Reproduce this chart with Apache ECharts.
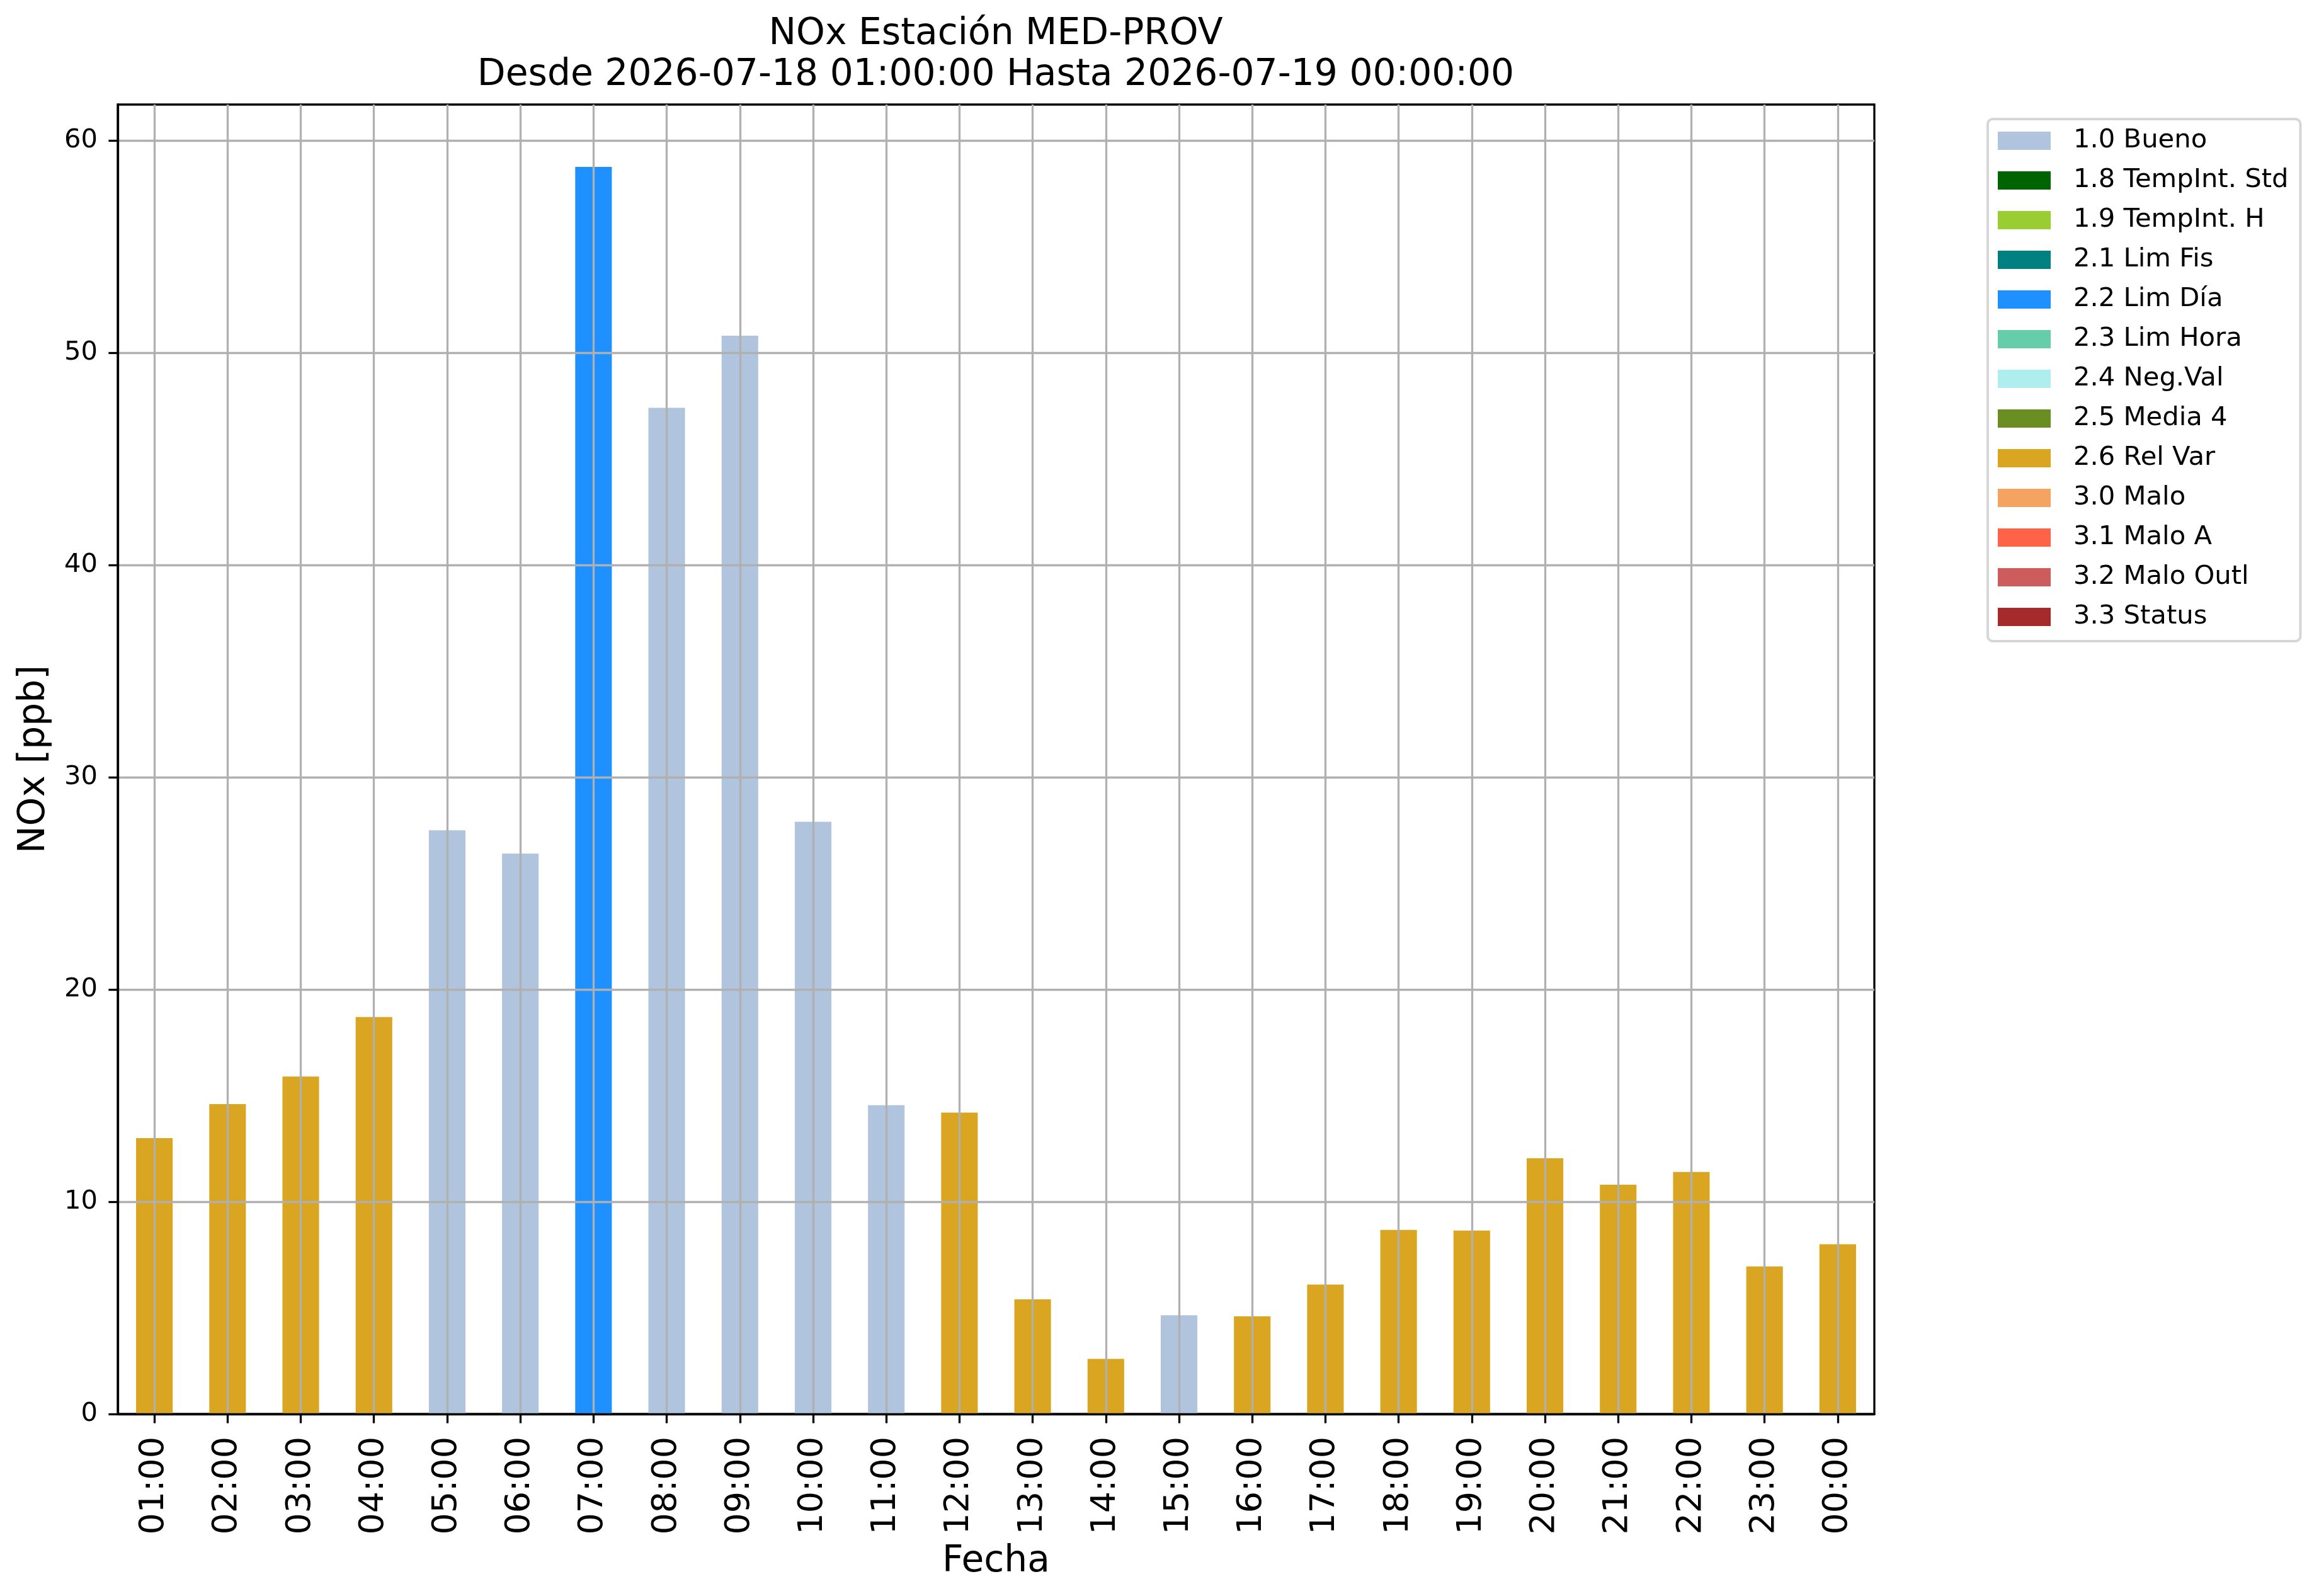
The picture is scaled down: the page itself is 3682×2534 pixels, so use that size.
<!DOCTYPE html>
<html>
<head>
<meta charset="utf-8">
<script src="https://cdn.jsdelivr.net/npm/echarts@6/dist/echarts.min.js"></script>
<style>
html,body{margin:0;padding:0;background:#fff;}
#chart{width:3682px;height:2534px;}
</style>
</head>
<body>
<div id="chart"></div>
<script>
// ---- data ----
const hours = ['01:00','02:00','03:00','04:00','05:00','06:00','07:00','08:00','09:00','10:00','11:00','12:00',
               '13:00','14:00','15:00','16:00','17:00','18:00','19:00','20:00','21:00','22:00','23:00','00:00'];
const noxValues = [13.0,14.6,15.9,18.7,27.5,26.4,58.75,47.4,50.8,27.9,14.55,14.2,
                   5.4,2.6,4.65,4.6,6.1,8.67,8.64,12.05,10.8,11.4,6.95,8.0];
const noxFlags = ['2.6','2.6','2.6','2.6','1.0','1.0','2.2','1.0','1.0','1.0','1.0','2.6',
                  '2.6','2.6','1.0','2.6','2.6','2.6','2.6','2.6','2.6','2.6','2.6','2.6'];
const flagCodes = ['1.0','1.8','1.9','2.1','2.2','2.3','2.4','2.5','2.6','3.0','3.1','3.2','3.3'];
const flagNames = ['1.0 Bueno','1.8 TempInt. Std','1.9 TempInt. H','2.1 Lim Fis','2.2 Lim Día','2.3 Lim Hora',
                   '2.4 Neg.Val','2.5 Media 4','2.6 Rel Var','3.0 Malo','3.1 Malo A','3.2 Malo Outl','3.3 Status'];
const flagColors = ['#B0C4DE','#006400','#9ACD32','#008080','#1E90FF','#66CDAA','#AFEEEE','#6B8E23',
                    '#DAA520','#F4A460','#FF6347','#CD5C5C','#A52A2A'];
const yTicks = [0,10,20,30,40,50,60];
const yMax = 61.69;
const titleText = 'NOx Estación MED-PROV\nDesde 2026-07-18 01:00:00 Hasta 2026-07-19 00:00:00';

// ---- chart ----
const FONT = 'DejaVu Sans';
const chart = echarts.init(document.getElementById('chart'), null, {renderer:'canvas', width:3682, height:2534, devicePixelRatio:1});

const series = flagCodes.map((code, k) => {
  const s = {
    name: flagNames[k],
    type: 'bar',
    stack: 'flags',
    barWidth: '50%',
    itemStyle: {color: flagColors[k]},
    emphasis: {disabled: true},
    data: noxValues.map((v, i) => noxFlags[i] === code ? v : '-')
  };
  if (k === 0) {
    s.markLine = {
      silent: true,
      symbol: ['none','none'],
      label: {show: false},
      lineStyle: {color: '#b0b0b0', width: 3.3, type: 'solid'},
      emphasis: {disabled: true},
      animation: false,
      z: 4,
      data: hours.map(h => ({xAxis: h}))
    };
  }
  return s;
});

const option = {
  animation: false,
  backgroundColor: '#ffffff',
  textStyle: {fontFamily: FONT},
  title: {
    text: titleText,
    left: 1581,
    top: 22,
    padding: 0,
    textAlign: 'center',
    textStyle: {fontFamily: FONT, fontSize: 58.3, fontWeight: 'normal', color: '#000', lineHeight: 65}
  },
  legend: {
    orient: 'vertical',
    left: 3156,
    top: 189,
    padding: [13.5, 19, 17.5, 16],
    backgroundColor: '#ffffff',
    borderColor: '#d6d6d6',
    borderWidth: 4,
    borderRadius: 8,
    itemWidth: 84,
    itemHeight: 29,
    itemGap: 21,
    icon: 'rect',
    selectedMode: false,
    textStyle: {fontFamily: FONT, fontSize: 41.7, color: '#000', lineHeight: 29, padding: [0,0,0,31]},
    data: flagNames
  },
  grid: {
    left: 187, right: 706, top: 166, bottom: 289,
    containLabel: false,
    show: true,
    borderColor: '#000',
    borderWidth: 3.3,
    backgroundColor: 'transparent'
  },
  xAxis: {
    type: 'category',
    data: hours,
    boundaryGap: true,
    z: 5,
    name: 'Fecha',
    nameLocation: 'middle',
    nameGap: 191,
    nameTextStyle: {fontFamily: FONT, fontSize: 58.3, color: '#000', lineHeight: 70},
    axisLine: {show: true, lineStyle: {color: '#000', width: 3.3}},
    axisTick: {show: true, alignWithLabel: true, length: 14.6, inside: false, lineStyle: {color: '#000', width: 3.3}},
    axisLabel: {show: true, rotate: 90, margin: 36, interval: 0, fontFamily: FONT, fontSize: 54, color: '#000'},
    splitLine: {show: false}
  },
  yAxis: {
    type: 'value',
    min: 0,
    max: yMax,
    interval: 10,
    z: 5,
    name: 'NOx [ppb]',
    nameLocation: 'middle',
    nameRotate: 90,
    nameGap: 97,
    nameTextStyle: {fontFamily: FONT, fontSize: 58.3, color: '#000', lineHeight: 70},
    axisLine: {show: true, lineStyle: {color: '#000', width: 3.3}},
    axisTick: {show: true, length: 14.6, inside: false, customValues: yTicks, lineStyle: {color: '#000', width: 3.3}},
    axisLabel: {show: true, margin: 32, customValues: yTicks, fontFamily: FONT, fontSize: 41.7, color: '#000',
                formatter: v => (yTicks.indexOf(v) >= 0 ? String(v) : '')},
    splitLine: {show: true, lineStyle: {color: '#b0b0b0', width: 3.3, type: 'solid'}}
  },
  series: series
};
chart.setOption(option);
</script>
</body>
</html>
